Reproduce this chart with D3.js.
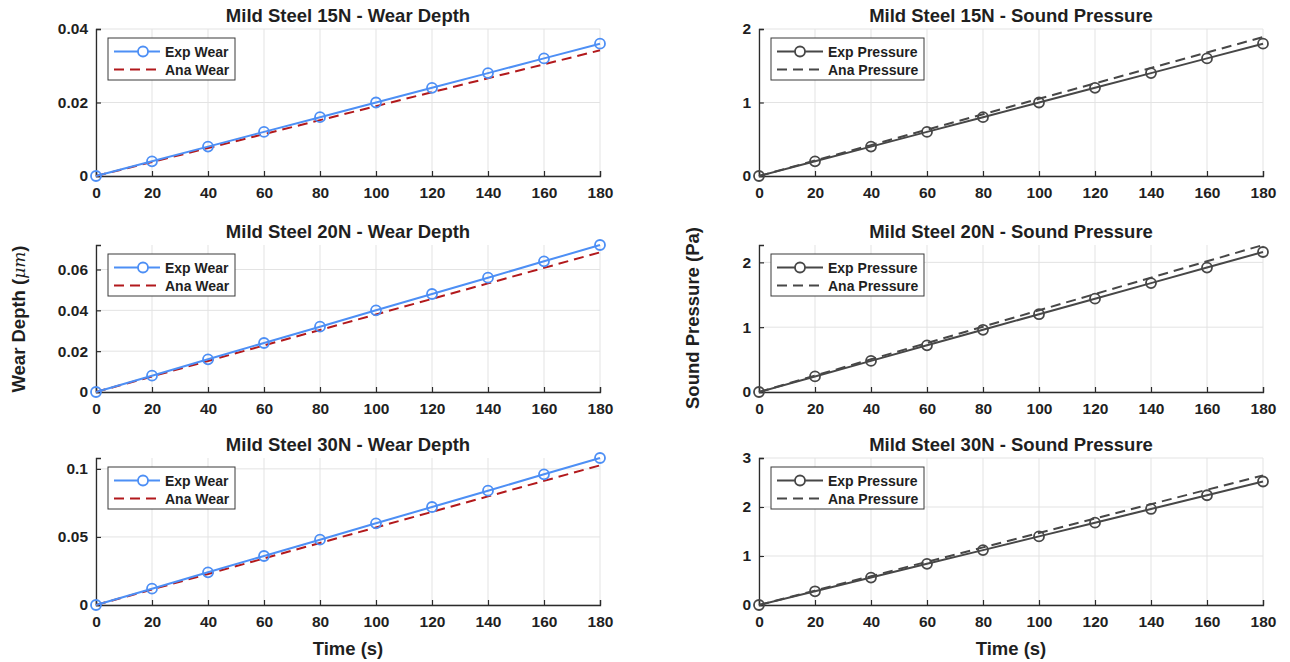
<!DOCTYPE html>
<html>
<head>
<meta charset="utf-8">
<script src="https://cdn.jsdelivr.net/npm/d3@7"></script>
<style>
  html, body { margin: 0; padding: 0; background: #fff; }
  svg { display: block; font-family: "Liberation Sans", Arial, Helvetica, sans-serif; }
</style>
</head>
<body>
<svg id="chart" width="1290" height="662"></svg>
<script>
// Sampling times (s)
const time = [0, 20, 40, 60, 80, 100, 120, 140, 160, 180];

// Wear depth (µm): experimental vs analytical
const expWear15 = [0, 0.004, 0.008, 0.012, 0.016, 0.020, 0.024, 0.028, 0.032, 0.036];
const anaWear15 = [0, 0.0038, 0.0076, 0.0114, 0.0152, 0.0190, 0.0228, 0.0266, 0.0304, 0.0342];
const expWear20 = [0, 0.008, 0.016, 0.024, 0.032, 0.040, 0.048, 0.056, 0.064, 0.072];
const anaWear20 = [0, 0.0076, 0.0152, 0.0228, 0.0304, 0.0380, 0.0456, 0.0532, 0.0608, 0.0684];
const expWear30 = [0, 0.012, 0.024, 0.036, 0.048, 0.060, 0.072, 0.084, 0.096, 0.108];
const anaWear30 = [0, 0.0114, 0.0228, 0.0342, 0.0456, 0.0570, 0.0684, 0.0798, 0.0912, 0.1026];

// Sound pressure (Pa): experimental vs analytical
const expPres15 = [0, 0.20, 0.40, 0.60, 0.80, 1.00, 1.20, 1.40, 1.60, 1.80];
const anaPres15 = [0, 0.21, 0.42, 0.63, 0.84, 1.05, 1.26, 1.47, 1.68, 1.89];
const expPres20 = [0, 0.24, 0.48, 0.72, 0.96, 1.20, 1.44, 1.68, 1.92, 2.16];
const anaPres20 = [0, 0.252, 0.504, 0.756, 1.008, 1.26, 1.512, 1.764, 2.016, 2.268];
const expPres30 = [0, 0.28, 0.56, 0.84, 1.12, 1.40, 1.68, 1.96, 2.24, 2.52];
const anaPres30 = [0, 0.294, 0.588, 0.882, 1.176, 1.47, 1.764, 2.058, 2.352, 2.646];

// Axis limits and tick labels
const xTicks = [0, 20, 40, 60, 80, 100, 120, 140, 160, 180];
const wearLimits = [0.04, 0.072, 0.108];
const wearTicks15 = [0, 0.02, 0.04];
const wearTicks20 = [0, 0.02, 0.04, 0.06];
const wearTicks30 = [0, 0.05, 0.1];
const presLimits = [2, 2.268, 3];
const presTicks15 = [0, 1, 2];
const presTicks20 = [0, 1, 2];
const presTicks30 = [0, 1, 2, 3];
const loads = ["15N", "20N", "30N"];

const svg = d3.select("#chart");
const TEXT = "#1f1f1f";
const AXIS = "#2b2b2b";
const GRID = "#e3e3e3";
const BLUE = "#4d8ff5";
const RED = "#b2191c";
const GRAY = "#474747";

const colX = [[96, 600], [759, 1263]];
const rowTop = [29, 245, 458];
const panelH = 147;

const wearSets = [[expWear15, anaWear15, wearTicks15], [expWear20, anaWear20, wearTicks20], [expWear30, anaWear30, wearTicks30]];
const presSets = [[expPres15, anaPres15, presTicks15], [expPres20, anaPres20, presTicks20], [expPres30, anaPres30, presTicks30]];

function fmt(v) { return v === 0 ? "0" : String(v); }

function drawPanel(col, row, expVals, anaVals, yTicks, yMax, opts) {
  const [x0, x1] = colX[col];
  const y0 = rowTop[row] + panelH, y1 = rowTop[row];
  const x = d3.scaleLinear().domain([0, 180]).range([x0, x1]);
  const y = d3.scaleLinear().domain([0, yMax]).range([y0, y1]);
  const g = svg.append("g");

  // grid
  g.append("g").selectAll("line").data(xTicks).join("line")
    .attr("x1", d => x(d)).attr("x2", d => x(d)).attr("y1", y0).attr("y2", y1)
    .attr("stroke", GRID).attr("stroke-width", 1);
  g.append("g").selectAll("line").data(yTicks).join("line")
    .attr("x1", x0).attr("x2", x1).attr("y1", d => y(d)).attr("y2", d => y(d))
    .attr("stroke", GRID).attr("stroke-width", 1);

  // axes (ticks point inward)
  const xAxis = d3.axisBottom(x).tickValues(xTicks).tickSize(-5).tickPadding(11).tickFormat(fmt);
  const yAxis = d3.axisLeft(y).tickValues(yTicks).tickSize(-5).tickPadding(8).tickFormat(fmt);
  const gx = g.append("g").attr("transform", `translate(0,${y0})`).call(xAxis);
  const gy = g.append("g").attr("transform", `translate(${x0},0)`).call(yAxis);
  [gx, gy].forEach(a => {
    a.select(".domain").attr("stroke", AXIS).attr("stroke-width", 1.3);
    a.selectAll(".tick line").attr("stroke", AXIS).attr("stroke-width", 1.2);
    a.selectAll(".tick text").attr("fill", TEXT).attr("font-size", 15.5).attr("font-weight", "bold")
      .attr("font-family", "Liberation Sans, Arial, sans-serif");
  });

  // title
  g.append("text").attr("x", (x0 + x1) / 2).attr("y", y1 - 7)
    .attr("text-anchor", "middle").attr("font-size", 18.5).attr("font-weight", "bold")
    .attr("fill", TEXT).text(opts.title);

  const pts = time.map((t, i) => [t, expVals[i], anaVals[i]]);
  const line = d3.line().x(d => x(d[0]));

  // analytical (dashed)
  g.append("path").datum(pts)
    .attr("d", line.y(d => y(d[2])))
    .attr("fill", "none").attr("stroke", opts.anaColor).attr("stroke-width", 2)
    .attr("stroke-dasharray", "10,6");
  // experimental (solid with circles)
  g.append("path").datum(pts)
    .attr("d", line.y(d => y(d[1])))
    .attr("fill", "none").attr("stroke", opts.expColor).attr("stroke-width", 2);
  g.append("g").selectAll("circle").data(pts).join("circle")
    .attr("cx", d => x(d[0])).attr("cy", d => y(d[1])).attr("r", 5)
    .attr("fill", "none").attr("stroke", opts.expColor).attr("stroke-width", 1.8);

  // legend
  const lx = x0 + 12, ly = y1 + 9;
  const lg = g.append("g").attr("transform", `translate(${lx},${ly})`);
  lg.append("rect").attr("width", opts.legendW).attr("height", 42)
    .attr("fill", "#fff").attr("stroke", "#3a3a3a").attr("stroke-width", 1);
  const rows = [
    { label: opts.expLabel, color: opts.expColor, dash: null, marker: true, yy: 13.5 },
    { label: opts.anaLabel, color: opts.anaColor, dash: "10,6", marker: false, yy: 31.5 }
  ];
  rows.forEach(r => {
    lg.append("line").attr("x1", 6).attr("x2", 52).attr("y1", r.yy).attr("y2", r.yy)
      .attr("stroke", r.color).attr("stroke-width", 2)
      .attr("stroke-dasharray", r.dash);
    if (r.marker) {
      lg.append("circle").attr("cx", opts.markerX).attr("cy", r.yy).attr("r", 5)
        .attr("fill", "#fff").attr("stroke", r.color).attr("stroke-width", 1.8);
    }
    lg.append("text").attr("x", 57).attr("y", r.yy + 5)
      .attr("font-size", 14).attr("font-weight", "bold").attr("fill", TEXT).text(r.label);
  });
}

loads.forEach((load, i) => {
  drawPanel(0, i, wearSets[i][0], wearSets[i][1], wearSets[i][2], wearLimits[i], {
    title: `Mild Steel ${load} - Wear Depth`,
    expColor: BLUE, anaColor: RED,
    expLabel: "Exp Wear", anaLabel: "Ana Wear",
    legendW: 127, markerX: 35
  });
  drawPanel(1, i, presSets[i][0], presSets[i][1], presSets[i][2], presLimits[i], {
    title: `Mild Steel ${load} - Sound Pressure`,
    expColor: GRAY, anaColor: GRAY,
    expLabel: "Exp Pressure", anaLabel: "Ana Pressure",
    legendW: 153, markerX: 29
  });
});

// shared axis labels
const yl = svg.append("text").attr("transform", "translate(25,319) rotate(-90)")
  .attr("text-anchor", "middle").attr("font-size", 18.5).attr("font-weight", "bold").attr("fill", TEXT);
yl.append("tspan").text("Wear Depth (");
yl.append("tspan").attr("font-style", "italic").attr("font-weight", "normal")
  .attr("font-family", "DejaVu Serif, serif").attr("font-size", 17).text("μm");
yl.append("tspan").text(")");

svg.append("text").attr("transform", "translate(699,318) rotate(-90)")
  .attr("text-anchor", "middle").attr("font-size", 18.5).attr("font-weight", "bold").attr("fill", TEXT)
  .text("Sound Pressure (Pa)");

svg.append("text").attr("x", 348).attr("y", 655).attr("text-anchor", "middle")
  .attr("font-size", 18.5).attr("font-weight", "bold").attr("fill", TEXT).text("Time (s)");
svg.append("text").attr("x", 1011).attr("y", 655).attr("text-anchor", "middle")
  .attr("font-size", 18.5).attr("font-weight", "bold").attr("fill", TEXT).text("Time (s)");
</script>
</body>
</html>
